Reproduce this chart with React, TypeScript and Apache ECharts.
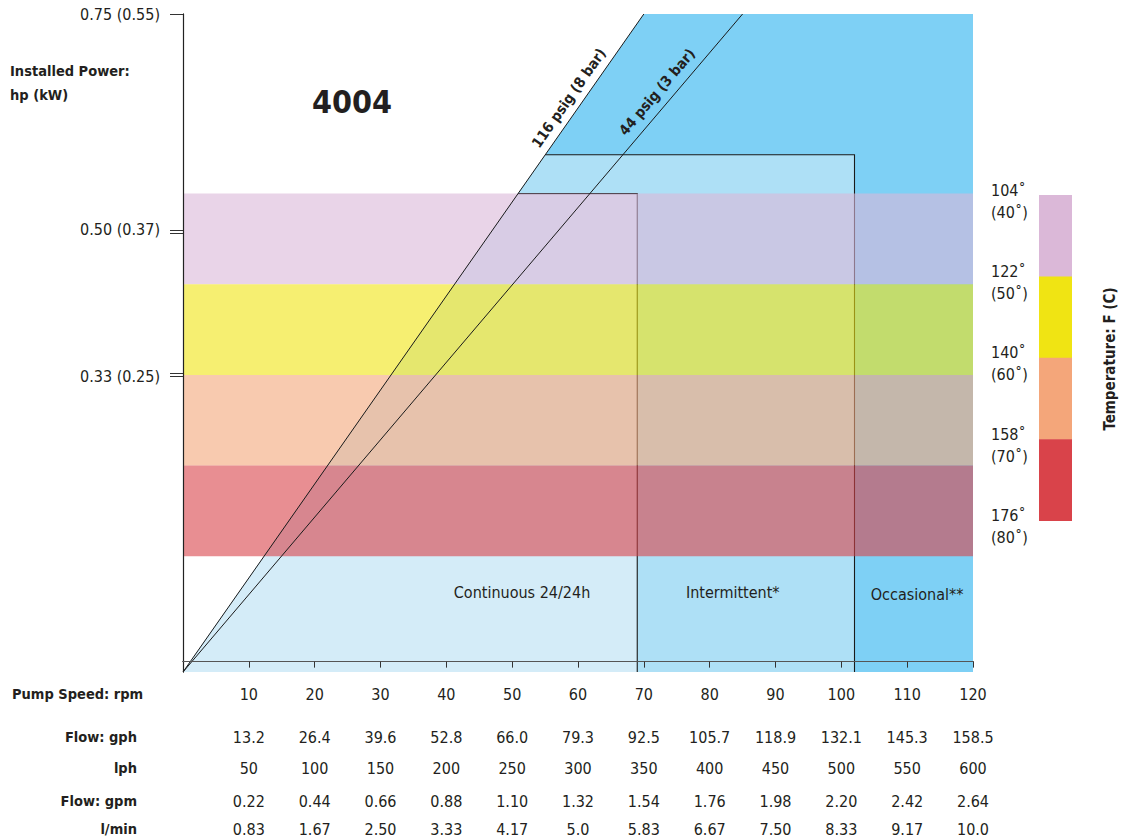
import React, { useEffect, useRef } from "react";
import * as echarts from "echarts";

const FONT = "'Liberation Sans Narrow', 'DejaVu Sans Condensed', 'Roboto', sans-serif";
const TXT = "#231f20";

// ---- data ----
const RPM_TICKS = [10, 20, 30, 40, 50, 60, 70, 80, 90, 100, 110, 120];
const FLOW_GPH = ["13.2", "26.4", "39.6", "52.8", "66.0", "79.3", "92.5", "105.7", "118.9", "132.1", "145.3", "158.5"];
const FLOW_LPH = ["50", "100", "150", "200", "250", "300", "350", "400", "450", "500", "550", "600"];
const FLOW_GPM = ["0.22", "0.44", "0.66", "0.88", "1.10", "1.32", "1.54", "1.76", "1.98", "2.20", "2.42", "2.64"];
const FLOW_LMIN = ["0.83", "1.67", "2.50", "3.33", "4.17", "5.0", "5.83", "6.67", "7.50", "8.33", "9.17", "10.0"];

const POWER_TICKS = [0.75, 0.5, 0.33];
const POWER_LABELS = ["0.75 (0.55)", "0.50 (0.37)", "0.33 (0.25)"];
const POWER_SECOND_TICKS = [0.4965, 0.3335];

const X_MIN = 0;
const X_MAX = 120;
const Y_MIN = -0.012;
const Y_MAX = 0.75;

const PSIG_NAMES = ["116 psig (8 bar)", "44 psig (3 bar)"];
const PSIG_TOP_RPM = [70, 85];
const PSIG_LABEL_RPM = [58.6, 72];
const PSIG_LABEL_HP = [0.6527, 0.6597];

const ZONE_NAMES = ["Occasional**", "Intermittent*", "Continuous 24/24h"];
const ZONE_END_RPM = [120, 102, 69];
const ZONE_TOP_HP = [0.75, 0.587, 0.542];
const ZONE_COLORS = ["#7ed0f5", "#aee0f6", "#d4ecf8"];
const ZONE_LABEL_RPM = [111.5, 83.5, 51.5];
const ZONE_LABEL_HP = [0.078, 0.0795, 0.0795];

const TEMP_F = ["104˚", "122˚", "140˚", "158˚", "176˚"];
const TEMP_C = ["(40˚)", "(50˚)", "(60˚)", "(70˚)", "(80˚)"];
const TEMP_EDGES_HP = [0.542, 0.437, 0.332, 0.227, 0.122];
const TEMP_COLORS = ["#dbb8d8", "#f0e413", "#f4a67a", "#d9434a"];

const yFrac = (hp: number) => (hp - Y_MIN) / (Y_MAX - Y_MIN);
const lineRpmAt = (topRpm: number, hp: number) => topRpm * yFrac(hp);

function zonePoints(i: number): number[][] {
  const top = ZONE_TOP_HP[i];
  const end = ZONE_END_RPM[i];
  return [
    [X_MIN, Y_MIN],
    [lineRpmAt(PSIG_TOP_RPM[0], top), top],
    [end, top],
    [end, Y_MIN],
  ];
}

const tableAxis = (offset: number, labels: string[], showLine: boolean) => ({
  type: "value",
  position: "bottom",
  min: X_MIN,
  max: X_MAX,
  offset,
  z: 10,
  splitLine: { show: false },
  axisLine: { show: showLine, lineStyle: { color: "#555", width: 1 } },
  axisTick: { show: false },
  axisLabel: {
    show: true,
    customValues: RPM_TICKS,
    formatter: (v: number) => {
      const idx = RPM_TICKS.indexOf(Math.round(v));
      return idx >= 0 ? labels[idx] : "";
    },
    margin: 15,
    fontSize: 16,
    fontFamily: FONT,
    color: TXT,
  },
});

function buildOption() {
  const legTop = 195;
  const legSeg = 81.4;
  const legX = 1039;
  const graphic: any[] = [];
  TEMP_COLORS.forEach((c, i) => {
    graphic.push({
      type: "rect",
      shape: { x: legX, y: legTop + i * legSeg, width: 33, height: legSeg + 0.5 },
      style: { fill: c },
    });
  });
  TEMP_F.forEach((t, i) => {
    graphic.push({
      type: "text",
      x: 991,
      y: legTop + i * legSeg - 5,
      style: { text: t, fontSize: 16, fontFamily: FONT, fill: TXT, verticalAlign: "middle" },
    });
    graphic.push({
      type: "text",
      x: 991,
      y: legTop + i * legSeg + 17,
      style: { text: TEMP_C[i], fontSize: 16, fontFamily: FONT, fill: TXT, verticalAlign: "middle" },
    });
  });
  graphic.push({
    type: "text",
    x: 1110,
    y: 359,
    rotation: Math.PI / 2,
    style: {
      text: "Temperature: F (C)",
      fontSize: 15,
      fontWeight: "bold",
      fontFamily: FONT,
      fill: TXT,
      align: "center",
      verticalAlign: "middle",
    },
  });
  const boldLeft = { fontSize: 14.5, fontWeight: "bold", fontFamily: FONT, fill: TXT, verticalAlign: "middle" };
  graphic.push({ type: "text", x: 10, y: 71, style: { ...boldLeft, text: "Installed Power:" } });
  graphic.push({ type: "text", x: 10, y: 95, style: { ...boldLeft, text: "hp (kW)" } });
  graphic.push({
    type: "text",
    x: 352,
    y: 102,
    style: { text: "4004", fontSize: 32, fontWeight: "bold", fontFamily: FONT, fill: TXT, align: "center", verticalAlign: "middle" },
  });
  graphic.push({ type: "text", x: 12, y: 694, style: { ...boldLeft, text: "Pump Speed: rpm" } });
  const rowNames = ["Flow: gph", "lph", "Flow: gpm", "l/min"];
  const rowY = [737, 768, 801, 829];
  rowNames.forEach((n, i) => {
    graphic.push({
      type: "text",
      x: 137,
      y: rowY[i],
      style: { ...boldLeft, text: n, align: "right" },
    });
  });

  const frameAxisBase = {
    type: "value",
    min: X_MIN,
    max: X_MAX,
    z: 10,
    splitLine: { show: false },
  };

  return {
    animation: false,
    backgroundColor: "#ffffff",
    grid: { left: 183, right: 149, top: 14, bottom: 166, containLabel: false },
    graphic,
    xAxis: [
      {
        ...frameAxisBase,
        position: "bottom",
        axisLine: { show: true, lineStyle: { color: "#333", width: 1 } },
        axisTick: { show: true, customValues: RPM_TICKS, length: 6, lineStyle: { color: "#333" } },
        axisLabel: {
          show: true,
          customValues: RPM_TICKS,
          margin: 14,
          fontSize: 16,
          fontFamily: FONT,
          color: TXT,
        },
      },
      {
        ...frameAxisBase,
        position: "top",
        axisLine: { show: true, lineStyle: { color: "#444", width: 1 } },
        axisTick: { show: false },
        axisLabel: { show: false },
      },
      tableAxis(42, FLOW_GPH, true),
      tableAxis(73, FLOW_LPH, false),
      tableAxis(106, FLOW_GPM, false),
      tableAxis(134, FLOW_LMIN, false),
    ],
    yAxis: [
      {
        type: "value",
        position: "left",
        min: Y_MIN,
        max: Y_MAX,
        z: 10,
        splitLine: { show: false },
        axisLine: { show: true, lineStyle: { color: "#333", width: 1 } },
        axisTick: { show: true, customValues: POWER_TICKS, length: 13, lineStyle: { color: "#333" } },
        axisLabel: {
          show: true,
          customValues: POWER_TICKS,
          formatter: (v: number) => {
            const idx = POWER_TICKS.findIndex((p) => Math.abs(p - v) < 1e-6);
            return idx >= 0 ? POWER_LABELS[idx] : "";
          },
          margin: 23,
          fontSize: 16,
          fontFamily: FONT,
          color: TXT,
        },
      },
      {
        type: "value",
        position: "left",
        min: Y_MIN,
        max: Y_MAX,
        z: 10,
        splitLine: { show: false },
        axisLine: { show: false },
        axisTick: { show: true, customValues: POWER_SECOND_TICKS, length: 13, lineStyle: { color: "#333" } },
        axisLabel: { show: false },
      },
      {
        type: "value",
        position: "right",
        min: Y_MIN,
        max: Y_MAX,
        z: 10,
        splitLine: { show: false },
        axisLine: { show: true, lineStyle: { color: "#222", width: 1.2 } },
        axisTick: { show: false },
        axisLabel: { show: false },
      },
    ],
    series: [
      {
        type: "custom",
        name: "zones",
        xAxisIndex: 0,
        yAxisIndex: 0,
        z: 1,
        silent: true,
        data: ZONE_NAMES.map((_, i) => [ZONE_END_RPM[i], ZONE_TOP_HP[i]]),
        renderItem: (params: any, api: any) => {
          const i = params.dataIndex;
          const pts = zonePoints(i).map((p) => api.coord(p));
          return { type: "polygon", shape: { points: pts }, style: { fill: ZONE_COLORS[i] } };
        },
      },
      {
        type: "custom",
        name: "zone outlines",
        xAxisIndex: 0,
        yAxisIndex: 0,
        z: 2,
        silent: true,
        data: [1, 2].map((i) => [ZONE_END_RPM[i], ZONE_TOP_HP[i], i]),
        renderItem: (params: any, api: any) => {
          const i = api.value(2);
          const pts = zonePoints(i).slice(1).map((p) => api.coord(p));
          return {
            type: "polyline",
            shape: { points: pts },
            style: { stroke: "#1a1a1a", lineWidth: 1.1, fill: "none" },
          };
        },
      },
      {
        type: "custom",
        name: "temperature bands",
        xAxisIndex: 0,
        yAxisIndex: 0,
        z: 3,
        silent: true,
        data: TEMP_COLORS.map((_, i) => [X_MAX, TEMP_EDGES_HP[i], TEMP_EDGES_HP[i + 1]]),
        renderItem: (params: any, api: any) => {
          const i = params.dataIndex;
          const a = api.coord([X_MIN, api.value(1)]);
          const b = api.coord([api.value(0), api.value(2)]);
          return {
            type: "rect",
            shape: { x: a[0], y: a[1], width: b[0] - a[0], height: b[1] - a[1] },
            style: { fill: TEMP_COLORS[i], opacity: 0.6 },
          };
        },
      },
      ...PSIG_NAMES.map((n, i) => ({
        type: "line",
        name: n,
        xAxisIndex: 0,
        yAxisIndex: 0,
        z: 5,
        silent: true,
        symbol: "none",
        lineStyle: { color: "#1a1a1a", width: 1 },
        data: [
          [X_MIN, Y_MIN],
          [PSIG_TOP_RPM[i], Y_MAX],
        ],
      })),
      {
        type: "custom",
        name: "psig labels",
        xAxisIndex: 0,
        yAxisIndex: 0,
        z: 6,
        silent: true,
        data: PSIG_NAMES.map((_, i) => [PSIG_LABEL_RPM[i], PSIG_LABEL_HP[i]]),
        renderItem: (params: any, api: any) => {
          const i = params.dataIndex;
          const p0 = api.coord([X_MIN, Y_MIN]);
          const p1 = api.coord([PSIG_TOP_RPM[i], Y_MAX]);
          const ang = Math.atan2(p0[1] - p1[1], p1[0] - p0[0]);
          const c = api.coord([api.value(0), api.value(1)]);
          return {
            type: "text",
            x: c[0],
            y: c[1],
            rotation: ang,
            style: {
              text: PSIG_NAMES[i],
              fontSize: 14.5,
              fontWeight: "bold",
              fontFamily: FONT,
              fill: TXT,
              align: "center",
              verticalAlign: "middle",
            },
          };
        },
      },
      {
        type: "custom",
        name: "zone labels",
        xAxisIndex: 0,
        yAxisIndex: 0,
        z: 6,
        silent: true,
        data: ZONE_NAMES.map((_, i) => [ZONE_LABEL_RPM[i], ZONE_LABEL_HP[i]]),
        renderItem: (params: any, api: any) => {
          const i = params.dataIndex;
          const c = api.coord([api.value(0), api.value(1)]);
          return {
            type: "text",
            x: c[0],
            y: c[1],
            style: {
              text: ZONE_NAMES[i],
              fontSize: 16,
              fontFamily: FONT,
              fill: TXT,
              align: "center",
              verticalAlign: "middle",
            },
          };
        },
      },
    ],
  };
}

export default function App() {
  const ref = useRef<HTMLDivElement>(null);
  useEffect(() => {
    document.body.style.margin = "0";
    const chart = echarts.init(ref.current as HTMLDivElement, null, { renderer: "svg" });
    chart.setOption(buildOption() as any);
    return () => chart.dispose();
  }, []);
  return <div ref={ref} style={{ width: 1122, height: 838 }} />;
}
